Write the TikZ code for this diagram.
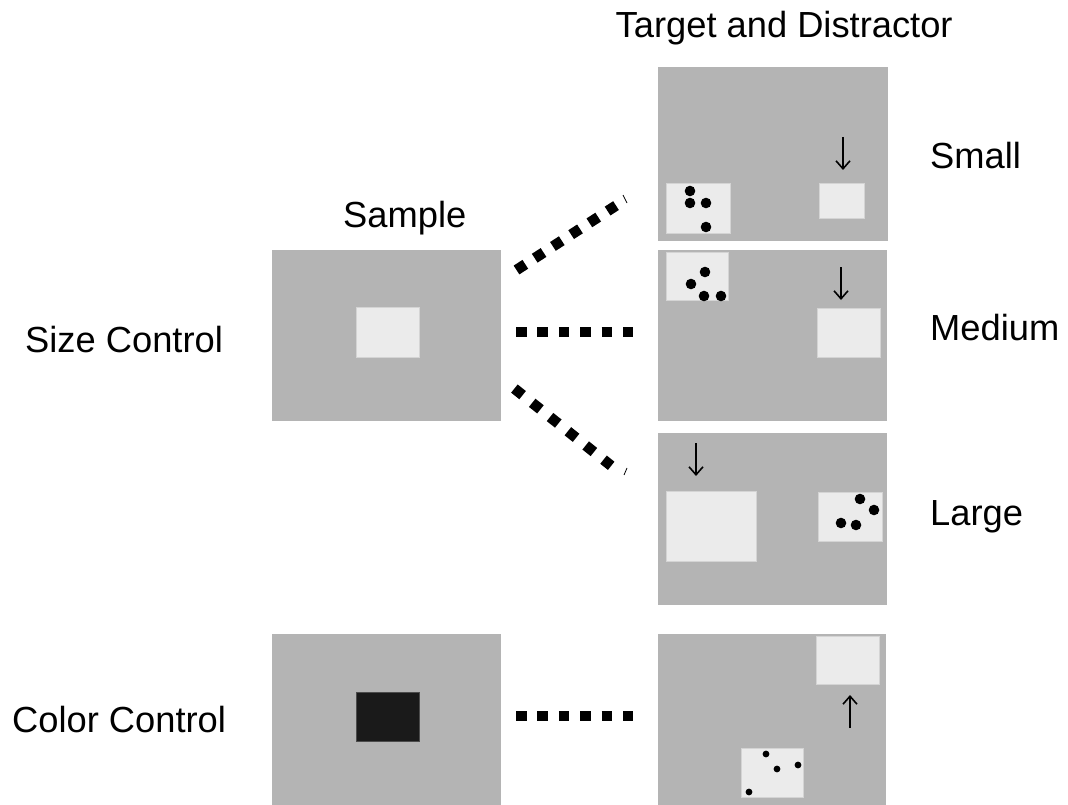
\documentclass[tikz,border=0pt]{standalone}
\usepackage{fontspec}
\setmainfont{Liberation Sans}
\usetikzlibrary{arrows.meta}
\definecolor{scrgray}{HTML}{B4B4B4}
\definecolor{cardwhite}{HTML}{EBEBEB}
\definecolor{cardedge}{HTML}{D4D4D4}
\definecolor{darkcard}{HTML}{1A1A1A}
\begin{document}
\begin{tikzpicture}[x=1pt,y=-1pt,
  screen/.style={fill=scrgray},
  card/.style={fill=cardwhite, draw=cardedge, line width=0.8pt},
  darkbox/.style={fill=darkcard, draw=black!70, line width=0.8pt},
  spot/.style={fill=black},
  lbl/.style={anchor=base west, inner sep=0pt, font=\fontsize{36.3}{40}\selectfont},
  link/.style={line width=10.5pt, dash pattern=on 10.5pt off 11.1pt},
  pointer/.style={line width=1.6pt, -{Straight Barb[length=8pt,width=14pt]}},
  tick/.style={line width=0.8pt}
]
\useasboundingbox (0,0) rectangle (1068,805);

% headings and row labels
\node[lbl] (hdTD) at (615.5,37.7) {Target and Distractor};
\node[lbl] (hdS) at (343,227) {Sample};
\node[lbl] (lbSize) at (25,352) {Size Control};
\node[lbl] (lbColor) at (12,732) {Color Control};
\node[lbl] (lbSmall) at (930,169) {Small};
\node[lbl] (lbMed) at (930,340) {Medium};
\node[lbl] (lbLarge) at (930,525) {Large};

% sample screens
\path[screen] (272,250) rectangle (501,421);
\path[card] (356,307) rectangle (419,357);
\path[screen] (272,634) rectangle (501,805);
\path[darkbox] (356,692) rectangle (419,741);

% target/distractor screen: small
\path[screen] (658,67) rectangle (888,241);
\path[card] (666,183) rectangle (730,233);
\foreach \p in {(690,191),(690,203),(706,203),(706,227)} \fill[spot] \p circle (5.3);
\path[card] (819,183) rectangle (864,218);
\coordinate (a1s) at (843,137); \coordinate (a1e) at (843,170);
\draw[pointer] (a1s) -- (a1e);

% target/distractor screen: medium
\path[screen] (658,250) rectangle (887,421);
\path[card] (666,252) rectangle (728,300);
\foreach \p in {(705,272),(691,284),(704,296),(721,296)} \fill[spot] \p circle (5.3);
\path[card] (817,308) rectangle (880,357);
\coordinate (a2s) at (841,267); \coordinate (a2e) at (841,300);
\draw[pointer] (a2s) -- (a2e);

% target/distractor screen: large
\path[screen] (658,433) rectangle (887,605);
\path[card] (666,491) rectangle (756,561);
\path[card] (818,492) rectangle (882,541);
\foreach \p in {(860,499),(874,510),(841,523),(856,525)} \fill[spot] \p circle (5.3);
\coordinate (a3s) at (696,443); \coordinate (a3e) at (696,476);
\draw[pointer] (a3s) -- (a3e);

% target/distractor screen: colour control
\path[screen] (658,634) rectangle (886,805);
\path[card] (816,636) rectangle (879,684);
\coordinate (a4s) at (850,728); \coordinate (a4e) at (850,695);
\draw[pointer] (a4s) -- (a4e);
\path[card] (741,748) rectangle (803,797);
\foreach \p in {(766,754),(777,769),(798,765),(749,792)} \fill[spot] \p circle (3.4);

% dashed links from sample to targets
\coordinate (u0) at (516.5,270); \coordinate (u1) at (616,205.6);
\coordinate (m0) at (516,332);   \coordinate (m1) at (633,332);
\coordinate (d0) at (514.4,388.6); \coordinate (d1) at (611.2,465.8);
\coordinate (c0) at (516,716);   \coordinate (c1) at (633,716);
\draw[link, dash pattern=on 10.5pt off 11.2pt] (u0) -- (u1);
\draw[link, dash pattern=on 10.5pt off 10.9pt] (m0) -- (m1);
\draw[link, dash pattern=on 10.5pt off 12.3pt] (d0) -- (d1);
\draw[link, dash pattern=on 10.5pt off 10.9pt] (c0) -- (c1);

% small end marks on the diagonal links
\coordinate (t1a) at (623,195); \coordinate (t1b) at (627,203);
\coordinate (t2a) at (624,475); \coordinate (t2b) at (627,468);
\draw[tick] (t1a) -- (t1b);
\draw[tick] (t2a) -- (t2b);
\end{tikzpicture}
\end{document}
